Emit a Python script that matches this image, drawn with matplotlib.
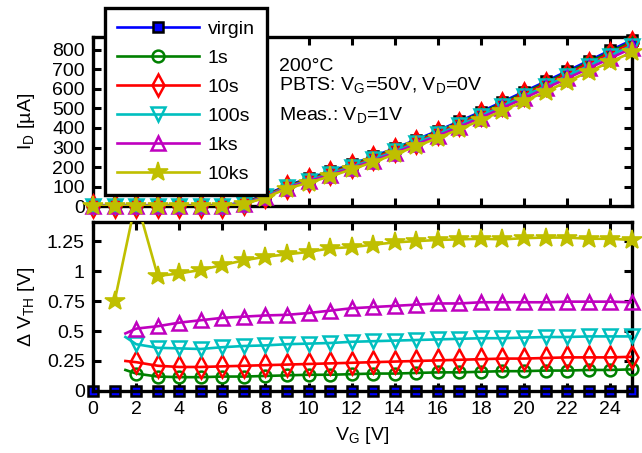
import numpy as np
import matplotlib
matplotlib.use('Agg')
import matplotlib.pyplot as plt

FS = 14
plt.rcParams['font.family'] = ['Liberation Sans', 'DejaVu Sans']
plt.rcParams['mathtext.default'] = 'regular'
plt.rcParams['mathtext.fontset'] = 'custom'
plt.rcParams['mathtext.rm'] = 'Liberation Sans'
plt.rcParams['font.size'] = FS

# gate voltage sweep
vg = list(range(26))

labels = ['virgin', '1s', '10s', '100s', '1ks', '10ks']

# transfer curves I_D [uA]
id_virgin = [0, 0, 0, 0, 0, 1, 4, 18, 58, 105, 142, 178, 215, 254, 296, 340, 386, 434, 483, 534, 586, 638, 691, 744, 797, 849]
id_1s = [0, 0, 0, 0, 0, 1, 3, 16, 55, 102, 138, 174, 210, 249, 291, 335, 380, 428, 477, 527, 579, 631, 683, 736, 789, 841]
id_10s = [0, 0, 0, 0, 0, 1, 3, 15, 53, 100, 135, 170, 206, 245, 287, 330, 375, 422, 471, 521, 572, 624, 676, 728, 781, 833]
id_100s = [0, 0, 0, 0, 0, 0, 3, 13, 50, 97, 131, 165, 201, 239, 280, 323, 368, 414, 462, 512, 563, 614, 666, 718, 770, 822]
id_1ks = [0, 0, 0, 0, 0, 0, 2, 11, 47, 94, 127, 160, 195, 232, 273, 316, 360, 406, 453, 502, 552, 603, 654, 705, 757, 808]
id_10ks = [0, 0, 0, 0, 0, 0, 2, 9, 44, 90, 120, 152, 188, 225, 265, 306, 349, 394, 440, 488, 537, 586, 637, 688, 738, 787]

# threshold voltage shift [V]; first entry of the shorter series sits at VG=1.5
dvth_vg = [1.5] + list(range(2, 26))
dvth_virgin = [0.0] * 26
dvth_1s = [0.175, 0.145, 0.12, 0.115, 0.115, 0.12, 0.12, 0.125, 0.13, 0.135, 0.135, 0.14, 0.145, 0.145, 0.15, 0.155, 0.155, 0.16, 0.165, 0.165, 0.17, 0.17, 0.175, 0.175, 0.18]
dvth_10s = [0.25, 0.24, 0.21, 0.20, 0.20, 0.205, 0.21, 0.215, 0.22, 0.225, 0.23, 0.235, 0.24, 0.245, 0.25, 0.255, 0.26, 0.265, 0.27, 0.27, 0.275, 0.28, 0.28, 0.28, 0.285]
dvth_100s = [0.45, 0.39, 0.36, 0.355, 0.35, 0.365, 0.375, 0.38, 0.39, 0.395, 0.40, 0.41, 0.415, 0.42, 0.425, 0.43, 0.435, 0.44, 0.44, 0.445, 0.45, 0.45, 0.455, 0.455, 0.455]
dvth_1ks = [0.48, 0.52, 0.54, 0.57, 0.59, 0.61, 0.62, 0.63, 0.635, 0.65, 0.67, 0.69, 0.70, 0.71, 0.72, 0.73, 0.73, 0.74, 0.74, 0.74, 0.74, 0.745, 0.745, 0.745, 0.74]
dvth_10ks_vg = list(range(1, 26))
dvth_10ks = [0.75, 1.6, 0.96, 0.98, 1.01, 1.05, 1.09, 1.12, 1.14, 1.16, 1.19, 1.20, 1.22, 1.24, 1.25, 1.26, 1.265, 1.27, 1.265, 1.275, 1.28, 1.28, 1.27, 1.27, 1.26]

colors = ['b', 'g', 'r', 'c', 'm', 'y']
markers = ['s', 'o', 'd', 'v', '^', '*']
msizes = [7.5, 8.5, 11, 10.5, 10.5, 14.5]

top_series = [id_virgin, id_1s, id_10s, id_100s, id_1ks, id_10ks]
bot_series = [(vg, dvth_virgin), (dvth_vg, dvth_1s), (dvth_vg, dvth_10s),
              (dvth_vg, dvth_100s), (dvth_vg, dvth_1ks), (dvth_10ks_vg, dvth_10ks)]

LW = 1.9


def marker_style(i):
    if i == 0:
        return dict(marker='s', markersize=msizes[0], markerfacecolor='b',
                    markeredgecolor='k', markeredgewidth=1.8)
    if markers[i] == '*':
        return dict(marker='*', markersize=msizes[i], markerfacecolor=colors[i],
                    markeredgecolor=colors[i], markeredgewidth=1.2)
    return dict(marker=markers[i], markersize=msizes[i], markerfacecolor='none',
                markeredgecolor=colors[i], markeredgewidth=1.8)


def draw(ax, x, y, i, ymax, label=None):
    x = np.asarray(x, dtype=float)
    y = np.asarray(y, dtype=float)
    ax.plot(x, y, color=colors[i], lw=LW, zorder=2 + i)
    # markers only on integer gate voltages, not clipped at the frame
    keep = (x == np.round(x)) & (y <= ymax)
    ax.plot(x[keep], y[keep], linestyle='none', clip_on=False, zorder=2 + i,
            **marker_style(i))
    if label is not None:
        ax.plot([], [], color=colors[i], lw=LW, label=label, **marker_style(i))


fig = plt.figure(figsize=(6.42, 4.53), dpi=100)
ax1 = fig.add_axes([0.145, 0.545, 0.839, 0.373])
ax2 = fig.add_axes([0.145, 0.137, 0.839, 0.373])

top_max = 865
bot_max = 1.41

for i, y in enumerate(top_series):
    draw(ax1, vg, y, i, top_max, label=labels[i])
for i, (x, y) in enumerate(bot_series):
    draw(ax2, x, y, i, bot_max)

for ax in (ax1, ax2):
    ax.set_xlim(0, 25)
    ax.set_xticks(range(0, 25, 2))
    ax.tick_params(direction='in', length=6, width=2.2, top=True, right=True,
                   labelsize=FS)
    for s in ax.spines.values():
        s.set_linewidth(2.4)
    ax.set_facecolor('none')

ax1.set_ylim(0, top_max)
ax1.set_yticks(range(0, 801, 100))
ax1.tick_params(axis='x', labelbottom=False)
ax1.tick_params(axis='y', pad=6)
ax1.set_ylabel(r'I$_D$ [µA]', fontsize=FS)
ax1.yaxis.set_label_coords(-0.105, 0.5)

ax2.set_ylim(0, bot_max)
ax2.set_yticks([0, 0.25, 0.5, 0.75, 1.0, 1.25])
ax2.set_yticklabels(['0', '0.25', '0.5', '0.75', '1', '1.25'])
ax2.tick_params(axis='y', pad=6)
ax2.tick_params(axis='x', pad=7)
ax2.set_xticks(range(0, 25, 2))
ax2.set_ylabel(r'$\Delta$ V$_{TH}$ [V]', fontsize=FS)
ax2.yaxis.set_label_coords(-0.105, 0.5)
ax2.set_xlabel(r'V$_G$ [V]', fontsize=FS)
ax2.xaxis.set_label_coords(0.5, -0.2)

ax1.text(0.345, 0.80, '200°C', transform=ax1.transAxes, fontsize=FS, va='baseline')
ax1.text(0.345, 0.686, r'PBTS: V$_G$=50V, V$_D$=0V', transform=ax1.transAxes,
         fontsize=FS, va='baseline')
ax1.text(0.345, 0.51, r'Meas.: V$_D$=1V', transform=ax1.transAxes,
         fontsize=FS, va='baseline')

h, l = ax1.get_legend_handles_labels()
leg = fig.legend(h, l, loc='upper left', bbox_to_anchor=(0.1636, 0.982),
                 bbox_transform=fig.transFigure, borderaxespad=0, numpoints=1,
                 handlelength=4.2, handletextpad=0.45, labelspacing=0.59,
                 borderpad=0.62, fancybox=False, framealpha=1, edgecolor='k',
                 fontsize=FS)
leg.get_frame().set_linewidth(2.4)
leg.set_zorder(20)

fig.savefig('out.png', dpi=100)
